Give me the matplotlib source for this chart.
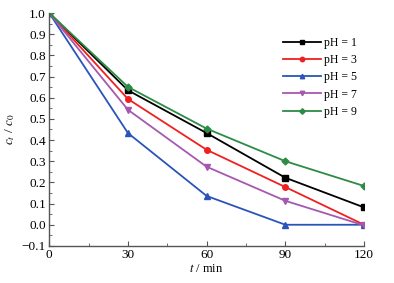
import matplotlib
matplotlib.use('Agg')
import matplotlib.pyplot as plt
from matplotlib.ticker import MultipleLocator

plt.rcParams['font.family'] = ['Liberation Serif', 'DejaVu Serif']
plt.rcParams['mathtext.fontset'] = 'stix'

t = [0, 30, 60, 90, 120]
ph1 = [1.0, 0.635, 0.433, 0.222, 0.082]
ph3 = [1.0, 0.594, 0.354, 0.178, 0.0]
ph5 = [1.0, 0.433, 0.136, 0.0, 0.0]
ph7 = [1.0, 0.543, 0.274, 0.113, -0.003]
ph9 = [1.0, 0.651, 0.454, 0.300, 0.183]

series = [
    ('pH = 1', ph1, 'black', 's'),
    ('pH = 3', ph3, '#f02020', 'o'),
    ('pH = 5', ph5, '#2a55b8', '^'),
    ('pH = 7', ph7, '#a658b0', 'v'),
    ('pH = 9', ph9, '#2e8b45', 'D'),
]

fig = plt.figure(figsize=(3.94, 2.83), dpi=100)
ax = fig.add_axes([0.125, 0.131, 0.799, 0.823])

for label, y, c, m in series:
    ms = 3.5 if m == 'D' else 4
    ax.plot(t, y, color=c, marker=m, markersize=ms, linewidth=1.3, label=label)

ax.set_xlim(0, 120)
ax.set_ylim(-0.1, 1.0)
ax.set_xticks([0, 30, 60, 90, 120])
ax.xaxis.set_minor_locator(MultipleLocator(15))
ax.yaxis.set_major_locator(MultipleLocator(0.1))
ax.yaxis.set_minor_locator(MultipleLocator(0.05))
ax.yaxis.set_major_formatter(plt.FuncFormatter(lambda v, p: ('%.1f' % v).replace('-', '−')))
ax.tick_params(which='both', direction='in', labelsize=9.5, color='#555555')
ax.tick_params(which='major', length=3.5, pad=2.5)
ax.tick_params(which='minor', length=2)
ax.spines['top'].set_visible(False)
ax.spines['right'].set_visible(False)
for s in ['left', 'bottom']:
    ax.spines[s].set_color('#555555')
    ax.spines[s].set_linewidth(1.0)

ax.set_xlabel('$t$ / min', fontsize=9, labelpad=1)
ax.set_ylabel('$c_t$ / $c_0$', fontsize=9.5, labelpad=3)

leg = ax.legend(loc='upper right', bbox_to_anchor=(1.012, 0.944), frameon=False,
                fontsize=8.5, handlelength=3.2, labelspacing=0.45, handletextpad=0.3,
                markerscale=0.8)

fig.savefig('out.png', dpi=100)
